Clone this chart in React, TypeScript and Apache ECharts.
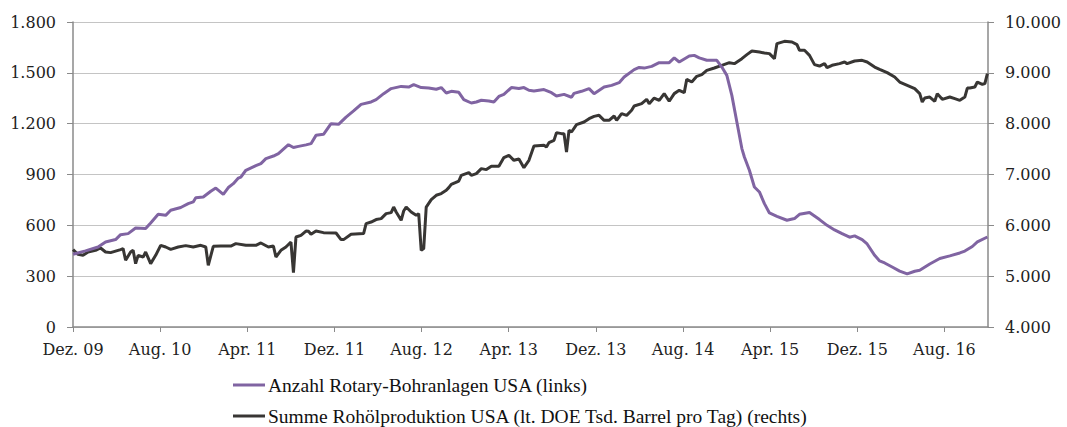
import React, { useEffect, useRef } from "react";
import * as echarts from "echarts";

// weeks since first week of Dec 2009
const rigWeeks = [0, 5, 10, 13, 17, 19, 22, 25, 29, 31, 34, 37, 39, 43, 46, 48, 49, 52, 55, 57, 60, 62, 64, 66, 67, 69, 73, 75, 77, 80, 82, 86, 88, 90, 93, 95, 97, 100, 103, 106, 109, 112, 115, 119, 121, 124, 127, 131, 134, 136, 139, 142, 145, 147, 149, 151, 154, 156, 159, 161, 163, 166, 168, 170, 172, 175, 178, 180, 182, 184, 188, 191, 193, 196, 199, 200, 203, 206, 208, 212, 215, 218, 220, 224, 226, 228, 231, 234, 238, 240, 242, 246, 248, 250, 253, 257, 259, 261, 263, 265, 267, 268, 270, 272, 274, 276, 278, 281, 285, 288, 290, 294, 298, 301, 304, 307, 310, 312, 315, 317, 320, 322, 324, 327, 330, 333, 336, 338, 342, 346, 350, 354, 356, 359, 361, 365];
const rigCount = [429, 449, 472, 502, 516, 545, 551, 584, 581, 614, 665, 659, 689, 705, 728, 738, 763, 767, 801, 820, 783, 823, 846, 879, 885, 925, 952, 964, 994, 1009, 1023, 1076, 1059, 1066, 1075, 1082, 1131, 1137, 1200, 1196, 1239, 1275, 1314, 1328, 1342, 1377, 1407, 1420, 1416, 1430, 1413, 1411, 1403, 1413, 1381, 1391, 1385, 1342, 1322, 1328, 1338, 1334, 1328, 1361, 1373, 1413, 1407, 1413, 1397, 1393, 1401, 1383, 1363, 1373, 1356, 1379, 1391, 1407, 1377, 1416, 1426, 1442, 1475, 1519, 1532, 1528, 1538, 1560, 1560, 1588, 1564, 1599, 1603, 1588, 1574, 1574, 1534, 1485, 1367, 1210, 1053, 1003, 925, 826, 797, 728, 673, 653, 630, 640, 665, 676, 634, 600, 573, 551, 530, 538, 516, 490, 423, 390, 378, 354, 330, 313, 329, 335, 372, 404, 420, 437, 448, 475, 502, 531];

const oilWeeks = [0, 2, 4, 6, 9, 11, 13, 15, 19, 20, 21, 23, 24, 25, 26, 28, 29, 31, 33, 35, 37, 39, 42, 45, 48, 51, 53, 54, 56, 59, 63, 65, 69, 73, 75, 78, 80, 81, 83, 85, 87, 88, 89, 91, 93, 94, 95, 97, 100, 105, 107, 108, 111, 116, 117, 119, 121, 123, 125, 127, 128, 129, 131, 132, 133, 135, 137, 138, 139, 140, 141, 143, 145, 147, 149, 150, 151, 154, 155, 158, 159, 161, 163, 165, 167, 170, 172, 174, 176, 178, 180, 182, 184, 188, 189, 190, 192, 193, 195, 196, 197, 198, 199, 201, 204, 206, 208, 210, 212, 214, 216, 217, 219, 221, 223, 224, 227, 229, 230, 232, 234, 236, 238, 240, 242, 244, 245, 247, 249, 251, 253, 256, 259, 262, 264, 267, 269, 271, 274, 276, 278, 280, 281, 284, 287, 289, 290, 292, 294, 296, 298, 300, 301, 303, 306, 308, 309, 312, 315, 317, 320, 322, 325, 328, 330, 333, 336, 338, 339, 340, 342, 344, 345, 347, 350, 352, 354, 356, 357, 358, 360, 361, 363, 364, 365];
const oilProd = [5523, 5430, 5410, 5475, 5509, 5554, 5475, 5463, 5523, 5542, 5312, 5475, 5509, 5247, 5410, 5377, 5475, 5247, 5410, 5607, 5574, 5528, 5574, 5601, 5574, 5607, 5574, 5214, 5587, 5593, 5593, 5640, 5607, 5607, 5653, 5574, 5593, 5377, 5509, 5574, 5672, 5070, 5770, 5804, 5888, 5882, 5823, 5888, 5856, 5849, 5719, 5719, 5823, 5837, 6033, 6065, 6113, 6132, 6230, 6250, 6360, 6262, 6099, 6282, 6360, 6262, 6197, 6230, 5509, 5542, 6360, 6505, 6591, 6624, 6689, 6742, 6807, 6872, 6984, 7037, 6984, 7017, 7116, 7096, 7161, 7161, 7332, 7378, 7279, 7305, 7135, 7279, 7560, 7574, 7540, 7627, 7672, 7824, 7804, 7804, 7443, 7869, 7836, 7981, 8033, 8099, 8144, 8164, 8066, 8066, 8151, 8066, 8197, 8164, 8263, 8347, 8394, 8479, 8394, 8504, 8459, 8591, 8440, 8591, 8656, 8611, 8872, 8819, 8931, 8964, 9049, 9095, 9148, 9200, 9181, 9279, 9358, 9429, 9409, 9390, 9378, 9279, 9575, 9620, 9606, 9555, 9443, 9443, 9344, 9161, 9134, 9181, 9102, 9148, 9181, 9213, 9181, 9233, 9246, 9213, 9114, 9069, 9004, 8918, 8819, 8754, 8689, 8591, 8426, 8504, 8524, 8440, 8591, 8479, 8524, 8492, 8459, 8524, 8701, 8701, 8721, 8819, 8774, 8787, 8984];

const seriesNames = [
  "Anzahl Rotary-Bohranlagen USA (links)",
  "Summe Rohölproduktion USA (lt. DOE Tsd. Barrel pro Tag) (rechts)",
];
const monthNames = ["Jan", "Feb", "Mär", "Apr", "Mai", "Jun", "Jul", "Aug", "Sep", "Okt", "Nov", "Dez"];

const weekToMonth = (w: number) => (w * 7) / 30.4375;
const thousands = (v: number) => String(v).replace(/\B(?=(\d{3})+(?!\d))/g, ".");

export default function App() {
  const ref = useRef<HTMLDivElement>(null);
  useEffect(() => {
    if (!ref.current) return;
    const chart = echarts.init(ref.current, null, { renderer: "svg" });
    const axisFont = { fontFamily: "DejaVu Serif", fontSize: 16, color: "#222" };
    const legendBase = {
      orient: "horizontal",
      left: 228,
      itemWidth: 32,
      itemHeight: 3,
      icon: "rect",
      textStyle: { fontFamily: "Liberation Serif", fontSize: 19.5, color: "#111", padding: [0, 0, 0, -2] },
    };
    chart.setOption({
      animation: false,
      grid: { left: 73, right: 79, top: 22, bottom: 100, containLabel: false },
      legend: [
        { ...legendBase, top: 370, data: [seriesNames[0]] },
        { ...legendBase, top: 401, data: [seriesNames[1]] },
      ],
      xAxis: {
        type: "value",
        min: 0,
        max: 84,
        interval: 8,
        axisLine: { show: true, lineStyle: { color: "#8a8a8a", width: 1.5 } },
        axisTick: { show: true, length: 5, lineStyle: { color: "#8a8a8a" } },
        splitLine: { show: false },
        axisLabel: {
          ...axisFont,
          margin: 14,
          formatter: (v: number) => {
            const idx = 11 + Math.round(v);
            const yr = 2009 + Math.floor(idx / 12);
            return `${monthNames[idx % 12]}. ${String(yr % 100).padStart(2, "0")}`;
          },
        },
      },
      yAxis: [
        {
          type: "value",
          min: 0,
          max: 1800,
          interval: 300,
          position: "left",
          axisLine: { show: true, lineStyle: { color: "#8a8a8a", width: 1.5 } },
          axisTick: { show: true, length: 6, lineStyle: { color: "#8a8a8a" } },
          splitLine: { show: true, lineStyle: { color: "#c4c4c4", width: 1.2 } },
          axisLabel: { ...axisFont, margin: 17, formatter: thousands },
        },
        {
          type: "value",
          min: 4000,
          max: 10000,
          interval: 1000,
          position: "right",
          axisLine: { show: true, lineStyle: { color: "#8a8a8a", width: 1.5 } },
          axisTick: { show: true, length: 6, lineStyle: { color: "#8a8a8a" } },
          splitLine: { show: false },
          axisLabel: { ...axisFont, margin: 17, formatter: thousands },
        },
      ],
      series: [
        {
          name: seriesNames[0],
          type: "line",
          yAxisIndex: 0,
          showSymbol: false,
          lineStyle: { color: "#8064a2", width: 3 },
          itemStyle: { color: "#8064a2" },
          data: rigWeeks.map((w, i) => [weekToMonth(w), rigCount[i]]),
          z: 3,
        },
        {
          name: seriesNames[1],
          type: "line",
          yAxisIndex: 1,
          showSymbol: false,
          lineStyle: { color: "#383634", width: 3 },
          itemStyle: { color: "#383634" },
          data: oilWeeks.map((w, i) => [weekToMonth(w), oilProd[i]]),
          z: 2,
        },
      ],
    });
    return () => chart.dispose();
  }, []);
  return (
    <div
      ref={ref}
      style={{ position: "absolute", left: 0, top: 0, width: 1067, height: 427, background: "#fff" }}
    />
  );
}
